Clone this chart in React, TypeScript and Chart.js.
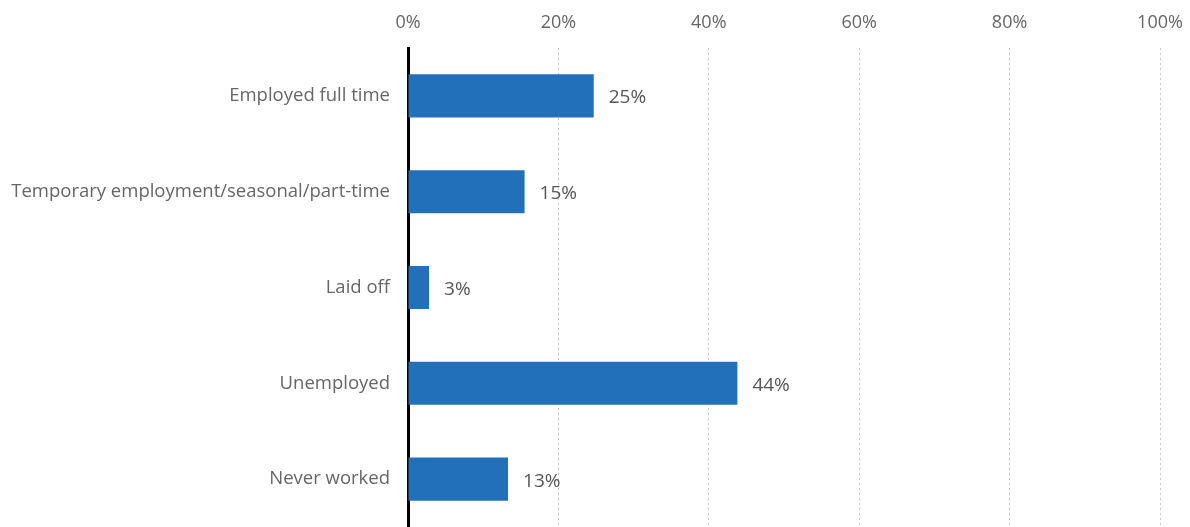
import React, { useEffect, useRef } from "react";
import { Chart, registerables } from "chart.js";

Chart.register(...registerables);

const categories = [
  "Employed full time",
  "Temporary employment/seasonal/part-time",
  "Laid off",
  "Unemployed",
  "Never worked",
];
const shares = [24.7, 15.5, 2.8, 43.8, 13.3];
const shareLabels = ["25%", "15%", "3%", "44%", "13%"];
const tickValues = [0, 20, 40, 60, 80, 100];

const FONT = "'Open Sans', 'Noto Sans', sans-serif";

const valueLabelPlugin = {
  id: "valueLabels",
  afterDatasetsDraw(chart: any) {
    const ctx = chart.ctx;
    const meta = chart.getDatasetMeta(0);
    ctx.save();
    ctx.font = `19px ${FONT}`;
    ctx.fillStyle = "#555555";
    ctx.textAlign = "left";
    ctx.textBaseline = "middle";
    meta.data.forEach((bar: any, i: number) => {
      ctx.fillText(shareLabels[i], bar.x + 15, bar.y + 2);
    });
    ctx.restore();
  },
};

export default function App() {
  const ref = useRef<HTMLCanvasElement | null>(null);
  useEffect(() => {
    if (!ref.current) return;
    const chart = new Chart(ref.current, {
      type: "bar",
      data: {
        labels: categories,
        datasets: [
          {
            data: shares,
            backgroundColor: "#2270b9",
            borderWidth: 0,
            barPercentage: 0.9,
            categoryPercentage: 0.5,
          },
        ],
      },
      options: {
        indexAxis: "y",
        responsive: true,
        maintainAspectRatio: false,
        animation: false,
        devicePixelRatio: 1,
        layout: { padding: { left: 0, right: 30, top: 0, bottom: 0 } },
        plugins: {
          legend: { display: false },
          tooltip: { enabled: false },
        },
        scales: {
          x: {
            position: "top",
            min: 0,
            max: 100,
            afterBuildTicks: (scale: any) => {
              scale.ticks = tickValues.map((v) => ({ value: v }));
            },
            afterFit: (scale: any) => {
              scale.height = 48;
              scale.paddingLeft = 0;
              scale.paddingRight = 0;
            },
            ticks: {
              callback: (v: any) => `${v}%`,
              color: "#666666",
              font: { family: FONT, size: 18 },
              padding: 14,
              maxRotation: 0,
            },
            grid: {
              drawTicks: false,
              color: (c: any) => (c.tick && c.tick.value === 0 ? "rgba(0,0,0,0)" : "#c8c8c8"),
              lineWidth: 1,
            },
            border: { display: false, dash: [2, 3] },
          },
          y: {
            afterFit: (scale: any) => {
              scale.width = 408;
              scale.paddingTop = 0;
              scale.paddingBottom = 0;
            },
            ticks: {
              color: "#666666",
              font: { family: FONT, size: 18.5 },
              padding: 18,
            },
            grid: { display: false, drawTicks: false },
            border: { display: true, color: "#000000", width: 3 },
          },
        },
      },
      plugins: [valueLabelPlugin],
    });
    return () => chart.destroy();
  }, []);
  return (
    <div style={{ position: "fixed", left: 0, top: 0, width: 1190, height: 527, background: "#fff" }}>
      <canvas ref={ref} />
    </div>
  );
}
